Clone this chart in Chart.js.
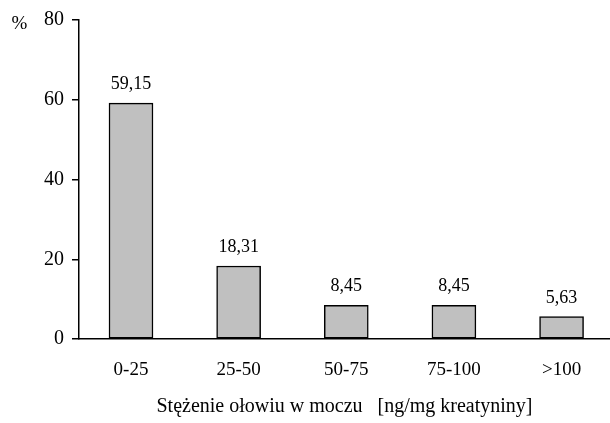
<!DOCTYPE html>
<html>
<head>
<meta charset="utf-8">
<script src="https://cdn.jsdelivr.net/npm/chart.js@4/dist/chart.umd.min.js"></script>
<style>
  html, body { margin: 0; padding: 0; background: #fff; }
  #wrap { width: 610px; height: 423px; position: relative; }
</style>
</head>
<body>
<div id="wrap"><canvas id="c" width="610" height="423"></canvas></div>
<script>
// Share of samples by urinary lead concentration range
const categories = ['0-25', '25-50', '50-75', '75-100', '>100'];
const percentValues = [59.15, 18.31, 8.45, 8.45, 5.63];
const yTicks = [0, 20, 40, 60, 80];
const xTitle = 'Stężenie ołowiu w moczu   [ng/mg kreatyniny]';
const yUnit = '%';

const FONT = "'Liberation Serif', 'Times New Roman', serif";
const points = percentValues.map((v, i) => ({ x: i, y: v }));

const fmt = v => v.toFixed(2).replace('.', ',');

const extras = {
  id: 'extras',
  afterDatasetsDraw(chart) {
    const { ctx } = chart;
    const meta = chart.getDatasetMeta(0);
    ctx.save();
    ctx.fillStyle = '#000';
    ctx.font = '18px ' + FONT;
    ctx.textAlign = 'center';
    ctx.textBaseline = 'alphabetic';
    meta.data.forEach((bar, i) => {
      ctx.fillText(fmt(percentValues[i]), bar.x, bar.y - 14);
    });
    ctx.font = '19px ' + FONT;
    ctx.textBaseline = 'middle';
    ctx.fillText(yUnit, 19.5, 24);
    ctx.restore();
  }
};

new Chart(document.getElementById('c'), {
  type: 'bar',
  data: {
    datasets: [{
      data: points,
      backgroundColor: '#c0c0c0',
      borderColor: '#000',
      borderWidth: 1.5,
      borderSkipped: false,
      barThickness: 44
    }]
  },
  options: {
    responsive: false,
    animation: false,
    events: [],
    layout: { padding: { top: 19, left: 0, right: 0, bottom: 0 } },
    plugins: { legend: { display: false }, tooltip: { enabled: false } },
    scales: {
      x: {
        type: 'linear',
        offset: false,
        min: -0.483,
        max: 4.45,
        afterFit(scale) { scale.height = 84; },
        afterBuildTicks(scale) { scale.ticks = categories.map((_, i) => ({ value: i })); },
        grid: { display: false, drawTicks: false },
        border: { display: true, color: '#000', width: 1.5 },
        ticks: {
          color: '#000',
          font: { family: FONT, size: 19 },
          padding: 20,
          autoSkip: false,
          maxRotation: 0,
          callback: v => categories[v]
        },
        title: {
          display: true,
          text: xTitle,
          color: '#000',
          font: { family: FONT, size: 20 },
          padding: { top: 0, bottom: 4 }
        }
      },
      y: {
        min: 0,
        max: 80,
        afterFit(scale) { scale.width = 79; },
        afterBuildTicks(scale) { scale.ticks = yTicks.map(v => ({ value: v })); },
        grid: { display: true, drawOnChartArea: false, drawTicks: true, tickLength: 7, color: '#000', lineWidth: 1.5 },
        border: { display: true, color: '#000', width: 1.5 },
        ticks: {
          color: '#000',
          font: { family: FONT, size: 20 },
          padding: 8
        }
      }
    }
  },
  plugins: [extras]
});
</script>
</body>
</html>
